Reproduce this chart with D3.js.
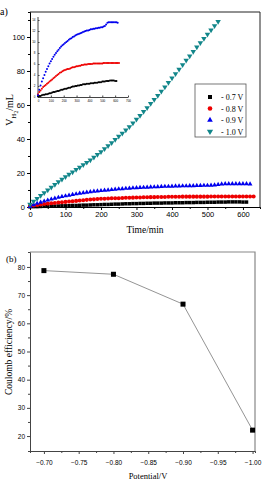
<!DOCTYPE html>
<html lang="en">
<head>
<meta charset="UTF-8">
<script src="https://cdnjs.cloudflare.com/ajax/libs/d3/7.9.0/d3.min.js"></script>
<title>Hydrogen volume and Coulomb efficiency</title>
<style>
  body { margin: 0; background: #fff; }
  svg { display: block; font-family: "Liberation Serif", "Times New Roman", serif; }
</style>
</head>
<body>
<div id="content"></div>
<script>
// ---- data ----
const timesGreen = d3.range(0, 531, 10);
const valuesGreen = [1.5, 3.3, 5, 6.7, 8.4, 10, 11.6, 13.2, 14.8, 16.3, 17.8, 19.2, 20.6, 22, 23.4, 24.8, 26.2, 27.6,
  29.2, 30.8, 32.5, 34.2, 36, 37.8, 39.6, 41.5, 43.3, 45.2, 47.2, 49.3, 51.5, 53.8, 56.1, 58.4, 60.8, 63.2,
  65.6, 68.1, 70.6, 73.2, 75.8, 78.4, 81, 83.6, 86.2, 88.8, 91.4, 94, 96.5, 99, 101.6, 104, 106.5, 109];

const timesBlue = d3.range(0, 621, 10);
const valuesBlue = [0.3, 1.3, 2.1, 2.8, 3.4, 4.0, 4.6, 5.1, 5.6, 6.1, 6.5, 6.9, 7.3, 7.7, 8.0, 8.3, 8.6, 8.9, 9.2, 9.4,
  9.6, 9.8, 10.0, 10.2, 10.4, 10.6, 10.7, 10.9, 11.0, 11.2, 11.3, 11.4, 11.5, 11.6, 11.7, 11.8, 11.9, 12.0, 12.1, 12.1,
  12.2, 12.3, 12.3, 12.4, 12.4, 12.5, 12.5, 12.6, 12.6, 12.7, 12.7, 12.8, 12.9, 13.2, 13.5, 13.6, 13.6, 13.6, 13.6, 13.6,
  13.6, 13.6, 13.5];

const timesRed = d3.range(0, 631, 10);
const valuesRed = [0.5, 0.9, 1.2, 1.5, 1.8, 2.0, 2.2, 2.4, 2.6, 2.8, 3.0, 3.2, 3.4, 3.6, 3.8, 4.0, 4.2, 4.4, 4.5, 4.7,
  4.8, 4.9, 5.0, 5.1, 5.1, 5.2, 5.3, 5.4, 5.4, 5.5, 5.6, 5.6, 5.7, 5.7, 5.8, 5.8, 5.9, 5.9, 5.9, 6.0,
  6.0, 6.0, 6.0, 6.1, 6.1, 6.1, 6.1, 6.1, 6.1, 6.1, 6.1, 6.2, 6.2, 6.2, 6.2, 6.2, 6.2, 6.2, 6.2, 6.2,
  6.2, 6.2, 6.2, 6.2];

const timesBlack = d3.range(0, 611, 10);
const valuesBlack = [0.1, 0.2, 0.2, 0.3, 0.4, 0.4, 0.5, 0.5, 0.6, 0.7, 0.7, 0.8, 0.9, 0.9, 1.0, 1.1, 1.1, 1.2, 1.3, 1.3,
  1.4, 1.5, 1.5, 1.6, 1.7, 1.7, 1.8, 1.9, 1.9, 2.0, 2.0, 2.1, 2.1, 2.2, 2.2, 2.3, 2.3, 2.3, 2.4, 2.4,
  2.4, 2.5, 2.5, 2.5, 2.6, 2.6, 2.6, 2.7, 2.7, 2.7, 2.8, 2.8, 2.8, 2.9, 2.9, 2.9, 3.0, 3.0, 3.0, 3.0,
  2.9, 2.9];

const legendLabels = ["- 0.7 V", "- 0.8 V", "- 0.9 V", "- 1.0 V"];

const potentials = [-0.70, -0.80, -0.90, -1.00];
const efficiency = [78.7, 77.4, 66.8, 22.1];

const timeTicks = [0, 100, 200, 300, 400, 500, 600];
const volumeTicks = [0, 20, 40, 60, 80, 100];
const potentialTicks = [-0.70, -0.75, -0.80, -0.85, -0.90, -0.95, -1.00];
const effTicks = [20, 30, 40, 50, 60, 70, 80];

// ---- setup ----
const width = 262, height = 483;
const svg = d3.select("#content").append("svg")
  .attr("width", width).attr("height", height);

const series = [
  { t: timesBlack, v: valuesBlack, color: "#000000", sym: d3.symbolSquare, size: 12, rot: 0 },
  { t: timesRed, v: valuesRed, color: "#ee0000", sym: d3.symbolCircle, size: 13, rot: 0 },
  { t: timesBlue, v: valuesBlue, color: "#0000ee", sym: d3.symbolTriangle, size: 10, rot: 0 },
  { t: timesGreen, v: valuesGreen, color: "#12868a", sym: d3.symbolTriangle, size: 13, rot: 180 }
];

function styleAxis(g, color) {
  g.select(".domain").attr("stroke", color);
  g.selectAll(".tick line").attr("stroke", color);
  g.selectAll(".tick text").attr("fill", "#000");
}

// ---- (a) hydrogen volume ----
const a = { left: 30, right: 260, top: 12, bottom: 207 };
const x = d3.scaleLinear().domain([0, 648]).range([a.left, a.right]);
const y = d3.scaleLinear().domain([0, 114.7]).range([a.bottom, a.top]);

// minor ticks
svg.append("g").attr("transform", `translate(0,${a.bottom})`)
  .call(d3.axisBottom(x).tickValues(d3.range(50, 648, 100)).tickSize(2).tickFormat(""))
  .call(g => styleAxis(g, "#000"));
svg.append("g").attr("transform", `translate(${a.left},0)`)
  .call(d3.axisLeft(y).tickValues(d3.range(10, 114, 20)).tickSize(2).tickFormat(""))
  .call(g => styleAxis(g, "#000"));

svg.append("g").attr("transform", `translate(0,${a.bottom})`)
  .call(d3.axisBottom(x).tickValues(timeTicks).tickSize(3).tickSizeOuter(0).tickPadding(2))
  .call(g => g.selectAll("text").style("font-size", "7.5px"))
  .call(g => styleAxis(g, "#000"));
svg.append("g").attr("transform", `translate(${a.left},0)`)
  .call(d3.axisLeft(y).tickValues(volumeTicks).tickSize(3).tickSizeOuter(0).tickPadding(2))
  .call(g => g.selectAll("text").style("font-size", "7.5px"))
  .call(g => styleAxis(g, "#000"));

// frame
svg.append("path")
  .attr("d", `M${a.left},${a.top}H${a.right}V${a.bottom}`)
  .attr("fill", "none").attr("stroke", "#222").attr("stroke-width", 1);

const plotA = svg.append("g");
series.forEach(s => {
  const sym = d3.symbol().type(s.sym).size(s.size);
  plotA.selectAll(null)
    .data(s.t.map((t, i) => [t, s.v[i]]))
    .enter().append("path")
    .attr("d", sym)
    .attr("transform", d => `translate(${x(d[0])},${y(d[1])}) rotate(${s.rot})`)
    .attr("fill", s.color);
});

// inset
const ins = { left: 38, right: 128, top: 20, bottom: 97 };
const xi = d3.scaleLinear().domain([0, 700]).range([ins.left, ins.right]);
const yi = d3.scaleLinear().domain([0, 14]).range([ins.bottom, ins.top]);
svg.append("g").attr("transform", `translate(0,${ins.bottom})`)
  .call(d3.axisBottom(xi).tickValues(d3.range(0, 701, 100)).tickSize(-1.5).tickSizeOuter(0).tickPadding(2.5))
  .call(g => g.selectAll("text").style("font-size", "3px"))
  .call(g => styleAxis(g, "#444"));
svg.append("g").attr("transform", `translate(${ins.left},0)`)
  .call(d3.axisLeft(yi).tickValues(d3.range(0, 15, 2)).tickSize(-1.5).tickSizeOuter(0).tickPadding(2.5))
  .call(g => g.selectAll("text").style("font-size", "3px"))
  .call(g => g.select(".domain").attr("d", `M0,${ins.bottom}V${ins.top - 3}`))
  .call(g => styleAxis(g, "#444"));

series.slice(0, 3).forEach(s => {
  svg.append("g").selectAll(null)
    .data(s.t.map((t, i) => [t, s.v[i]]))
    .enter().append("circle")
    .attr("cx", d => xi(d[0])).attr("cy", d => yi(d[1]))
    .attr("r", 1)
    .attr("fill", s.color);
});

// legend
const lg = svg.append("g").attr("transform", "translate(195,84)");
lg.append("rect").attr("width", 51).attr("height", 53)
  .attr("fill", "#fff").attr("stroke", "#555").attr("stroke-width", 0.8);
series.forEach((s, i) => {
  const yy = 13 + i * 11.5;
  lg.append("path")
    .attr("d", d3.symbol().type(s.sym).size(s.size + 4))
    .attr("transform", `translate(15,${yy}) rotate(${s.rot})`)
    .attr("fill", s.color);
  lg.append("text").attr("x", 26).attr("y", yy + 3)
    .style("font-size", "8px").text(legendLabels[i]);
});

svg.append("text").attr("x", 0).attr("y", 15).style("font-size", "10px").text("a)");
svg.append("text").attr("x", 145).attr("y", 233).attr("text-anchor", "middle")
  .style("font-size", "9.5px").text("Time/min");
const yl = svg.append("text").attr("transform", "translate(13,110) rotate(-90)")
  .attr("text-anchor", "middle").style("font-size", "10px");
yl.append("tspan").text("V");
yl.append("tspan").attr("dy", 3).style("font-size", "7px").text("H");
yl.append("tspan").attr("dy", 2).style("font-size", "5.5px").text("2");
yl.append("tspan").attr("dy", -5).text("/mL");

// ---- (b) Coulomb efficiency ----
const b = { left: 30, right: 255, top: 252, bottom: 451 };
const xb = d3.scaleLinear().domain([-0.68, -1.0035]).range([b.left, b.right]);
const yb = d3.scaleLinear().domain([14.7, 85.3]).range([b.bottom, b.top]);

svg.append("g").attr("transform", `translate(0,${b.bottom})`)
  .call(d3.axisBottom(xb).tickValues(d3.range(-0.725, -1.0, -0.05)).tickSize(2).tickFormat(""))
  .call(g => styleAxis(g, "#444"));
svg.append("g").attr("transform", `translate(${b.left},0)`)
  .call(d3.axisLeft(yb).tickValues(d3.range(25, 85, 10)).tickSize(2).tickFormat(""))
  .call(g => styleAxis(g, "#444"));
svg.append("g").attr("transform", `translate(0,${b.bottom})`)
  .call(d3.axisBottom(xb).tickValues(potentialTicks).tickSize(3).tickSizeOuter(0).tickPadding(6)
    .tickFormat(d3.format(".2f")))
  .call(g => g.selectAll("text").style("font-size", "6.5px"))
  .call(g => styleAxis(g, "#444"));
svg.append("g").attr("transform", `translate(${b.left},0)`)
  .call(d3.axisLeft(yb).tickValues(effTicks).tickSize(3).tickSizeOuter(0).tickPadding(2))
  .call(g => g.selectAll("text").style("font-size", "6.5px"))
  .call(g => styleAxis(g, "#444"));

svg.append("path")
  .attr("d", `M${b.left},${b.top}H${b.right}V${b.bottom}`)
  .attr("fill", "none").attr("stroke", "#888").attr("stroke-width", 1.2);

const effData = potentials.map((p, i) => [p, efficiency[i]]);
svg.append("path").datum(effData)
  .attr("d", d3.line().x(d => xb(d[0])).y(d => yb(d[1])))
  .attr("fill", "none").attr("stroke", "#666").attr("stroke-width", 0.7);
svg.selectAll(null).data(effData).enter().append("rect")
  .attr("x", d => xb(d[0]) - 2.5).attr("y", d => yb(d[1]) - 2.5)
  .attr("width", 5).attr("height", 5).attr("fill", "#000");

svg.append("text").attr("x", 6).attr("y", 262).style("font-size", "9px").text("(b)");
svg.append("text").attr("x", 148).attr("y", 479).attr("text-anchor", "middle")
  .style("font-size", "8.5px").text("Potential/V");
svg.append("text").attr("transform", "translate(12,352) rotate(-90)")
  .attr("text-anchor", "middle").style("font-size", "9.5px").text("Coulomb efficiency/%");
</script>
</body>
</html>
